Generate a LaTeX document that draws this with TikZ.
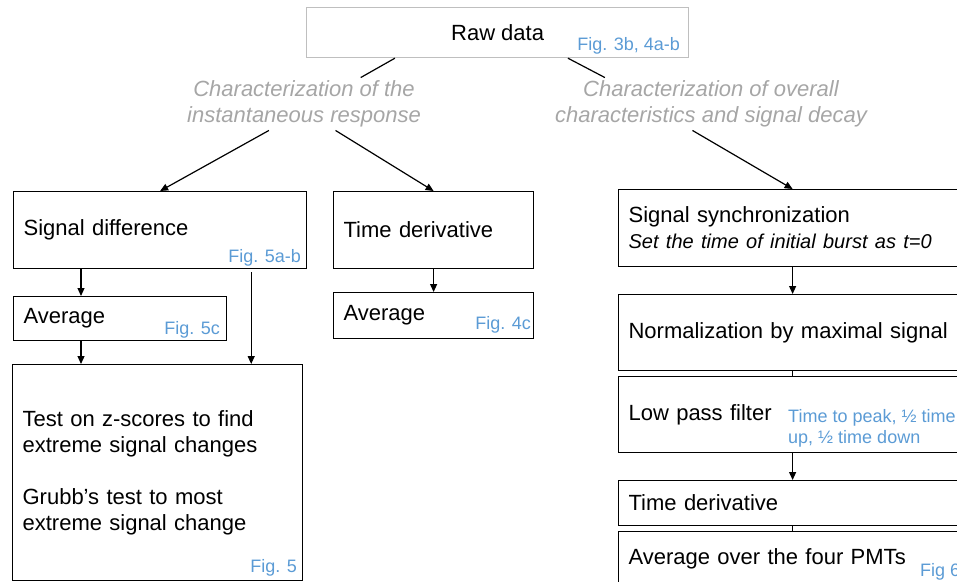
\documentclass[tikz,border=0pt]{standalone}
\usepackage{fontspec}
\setmainfont{Liberation Sans}
\usetikzlibrary{arrows.meta}

\definecolor{figblue}{RGB}{91,155,213}
\definecolor{capgray}{RGB}{166,166,166}
\definecolor{rawgray}{RGB}{191,191,191}

\newcommand{\bigtxt}{\fontsize{22}{26}\selectfont}
\newcommand{\notetxt}{\fontsize{20}{25}\selectfont}
\newcommand{\figtxt}{\fontsize{18}{21}\selectfont}

\tikzset{
  stepbox/.style={draw,line width=1.2pt,rectangle,align=left,inner xsep=10pt,inner ysep=0pt,anchor=north west,font=\bigtxt},
  rawbox/.style={draw=rawgray,line width=1.2pt,rectangle,inner sep=0pt,anchor=north west,font=\bigtxt},
  caption/.style={text=capgray,align=center,inner sep=3pt,font=\bigtxt\itshape},
  figlabel/.style={text=figblue,inner sep=0pt,anchor=base east,font=\figtxt},
  link/.style={line width=1.2pt},
  arrow/.style={line width=1.2pt,->}
}

\begin{document}
\begin{tikzpicture}[x=1pt,y=-1pt,>={Triangle[length=8pt,width=7pt]}]
    \clip (0,0) rectangle (957,581);

    % top
    \node[rawbox,minimum width=382pt,minimum height=50pt] (raw) at (306,7) {Raw data};
    \node[figlabel] (rawfig) at ([xshift=-9pt,yshift=8pt]raw.south east) {Fig. 3b, 4a-b};

    \node[caption] (inst) at (304,104) {Characterization of the\\instantaneous response};
    \node[caption] (over) at (711,104) {Characterization of overall\\characteristics and signal decay};

    % left column
    \node[stepbox,text width=273pt,minimum height=77pt] (sigdiff) at (13,191) {Signal difference};
    \node[figlabel] (sigfig) at ([xshift=-6pt,yshift=7pt]sigdiff.south east) {Fig. 5a-b};

    \node[stepbox,text width=193pt,minimum height=44pt] (avgA) at (13,296) {Average};
    \node[figlabel] (avgAfig) at ([xshift=-7pt,yshift=7pt]avgA.south east) {Fig. 5c};

    \node[stepbox,text width=270pt,minimum height=216pt] (tests) at (12,364)
      {Test on z-scores to find\\extreme signal changes\\[26pt]Grubb’s test to most\\extreme signal change};
    \node[figlabel] (testfig) at ([xshift=-6pt,yshift=9pt]tests.south east) {Fig. 5};

    % middle column
    \node[stepbox,text width=180pt,minimum height=77pt] (deriv) at (333,191) {Time derivative};
    \node[stepbox,text width=180pt,minimum height=46pt] (avgB) at (333,292) {Average};
    \node[figlabel] (avgBfig) at ([xshift=-3pt,yshift=10pt]avgB.south east) {Fig. 4c};

    % right column
    \node[stepbox,text width=328pt,minimum height=77pt] (sync) at (618,189)
      {Signal synchronization\\{\notetxt\itshape Set the time of initial burst as t=0}};
    \node[stepbox,text width=328pt,minimum height=76pt] (norm) at (618,294) {Normalization by maximal signal};
    \node[stepbox,text width=328pt,minimum height=76pt] (lowpass) at (618,376) {Low pass filter};
    \node[figlabel,anchor=west,align=left] (peakfig) at ([xshift=170pt,yshift=-14pt]lowpass.west)
      {Time to peak, ½ time\\up, ½ time down};
    \node[stepbox,text width=328pt,minimum height=45pt] (derivB) at (618,480) {Time derivative};
    \node[stepbox,text width=328pt,minimum height=55pt] (pmt) at (618,531) {Average over the four PMTs};
    \node[figlabel,anchor=base west] (pmtfig) at ([xshift=302pt,yshift=11pt]pmt.south west) {Fig 6};

    % connectors
    \draw[link] (raw.194) -- (inst.25);
    \draw[link] (raw.340) -- (over.166);
    \draw[arrow] (inst.217) -- (sigdiff.north);
    \draw[arrow] (inst.320) -- (deriv.north);
    \draw[arrow] (over.235) -- (sync.north);

    \coordinate (dA) at ([xshift=68pt]sigdiff.south west);
    \coordinate (dB) at ([xshift=68pt]avgA.south west);
    \coordinate (dC) at ([xshift=-56pt,yshift=-3pt]sigdiff.south east);
    \draw[arrow] (dA) -- (dA |- avgA.north);
    \draw[arrow] (dB) -- (dB |- tests.north);
    \draw[arrow] (dC) -- (dC |- tests.north);

    \draw[arrow] (deriv) -- (avgB);

    \draw[arrow] (sync) -- (norm);
    \draw[link] (norm) -- (lowpass);
    \draw[arrow] (lowpass) -- (derivB);
    \draw[link] (derivB) -- (pmt);
\end{tikzpicture}
\end{document}
